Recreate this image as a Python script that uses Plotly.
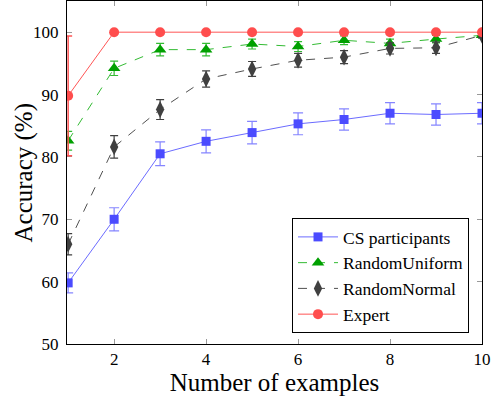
import plotly.graph_objects as go

examples = [1, 2, 3, 4, 5, 6, 7, 8, 9, 10]

cs_participants = [59.8, 70.0, 80.5, 82.5, 83.9, 85.3, 86.0, 87.0, 86.8, 87.0]
cs_err = [1.6, 1.85, 1.9, 1.85, 1.8, 1.75, 1.7, 1.7, 1.7, 1.7]

random_uniform = [82.6, 94.2, 97.2, 97.2, 98.1, 97.7, 98.7, 98.2, 98.9, 99.5]
uniform_err = [1.5, 1.15, 1.0, 1.0, 0.8, 0.8, 0.7, 0.7, 0.6, 0.4]

random_normal = [66.0, 81.6, 87.6, 92.5, 94.1, 95.5, 96.0, 97.4, 97.5, 99.5]
normal_err = [1.7, 1.8, 1.6, 1.3, 1.2, 1.1, 1.05, 0.9, 0.9, 0.4]

expert = [89.8, 100.0, 100.0, 100.0, 100.0, 100.0, 100.0, 100.0, 100.0, 100.0]
expert_err = [9.6, 0, 0, 0, 0, 0, 0, 0, 0, 0]

x_ticks = [2, 4, 6, 8, 10]
y_ticks = [50, 60, 70, 80, 90, 100]

FONT = "Liberation Serif"

fig = go.Figure()

fig.add_trace(go.Scatter(
    x=examples, y=cs_participants, name="CS participants", mode="lines+markers",
    line=dict(color="#6b6bff", width=1),
    marker=dict(symbol="square", size=9, color="#4b4bff"),
    error_y=dict(type="data", array=cs_err, color="#8585ff", thickness=1.2, width=5),
))
fig.add_trace(go.Scatter(
    x=examples, y=random_uniform, name="RandomUniform", mode="lines+markers",
    line=dict(color="#33bb33", width=1, dash="dash"),
    marker=dict(symbol="triangle-up", size=11, color="#00a000"),
    error_y=dict(type="data", array=uniform_err, color="#33bb33", thickness=1.2, width=4),
))
fig.add_trace(go.Scatter(
    x=examples, y=random_normal, name="RandomNormal", mode="lines+markers",
    line=dict(color="#505050", width=1, dash="dash"),
    marker=dict(symbol="diamond-tall", size=12, color="#404040"),
    error_y=dict(type="data", array=normal_err, color="#404040", thickness=1.2, width=4),
))
fig.add_trace(go.Scatter(
    x=examples, y=expert, name="Expert", mode="lines+markers",
    line=dict(color="#ff5555", width=1),
    marker=dict(symbol="circle", size=10, color="#ff4d4d"),
    error_y=dict(type="data", array=expert_err, color="#ff5555", thickness=1.5, width=4),
))

fig.update_layout(
    width=502, height=405,
    margin=dict(l=67, r=20, t=1, b=61),
    paper_bgcolor="white", plot_bgcolor="white",
    font=dict(family=FONT, color="black", size=17),
    showlegend=True,
    legend=dict(
        x=0.9687, y=0.032, xanchor="right", yanchor="bottom",
        bordercolor="black", borderwidth=1, bgcolor="white",
        font=dict(family=FONT, size=17.5), tracegroupgap=0,
        itemwidth=40,
    ),
    annotations=[dict(
        text="Accuracy (%)", xref="paper", yref="paper",
        x=-0.106, y=0.5, xanchor="center", yanchor="middle",
        textangle=-90, showarrow=False,
        font=dict(family=FONT, size=25, color="black"),
    )],
)

fig.update_xaxes(
    range=[0.975, 10], tickvals=x_ticks, ticks="inside", ticklen=5, tickcolor="#999999",
    showline=True, linecolor="black", linewidth=1, mirror="ticks",
    showgrid=False, zeroline=False, automargin=False, layer="below traces",
    tickfont=dict(family=FONT, size=17),
    title=dict(text="Number of examples", font=dict(family=FONT, size=25), standoff=5),
)
fig.update_yaxes(
    range=[50, 105], tickvals=y_ticks, ticks="inside", ticklen=5, tickcolor="#999999",
    showline=True, linecolor="black", linewidth=1, mirror="ticks",
    showgrid=False, zeroline=False, automargin=False, layer="below traces",
    ticklabelstandoff=4,
    tickfont=dict(family=FONT, size=17),
)

fig.write_html(
    "out.html",
    config={"displayModeBar": False},
    post_script="document.body.style.margin='0';document.body.style.overflow='hidden';",
)
